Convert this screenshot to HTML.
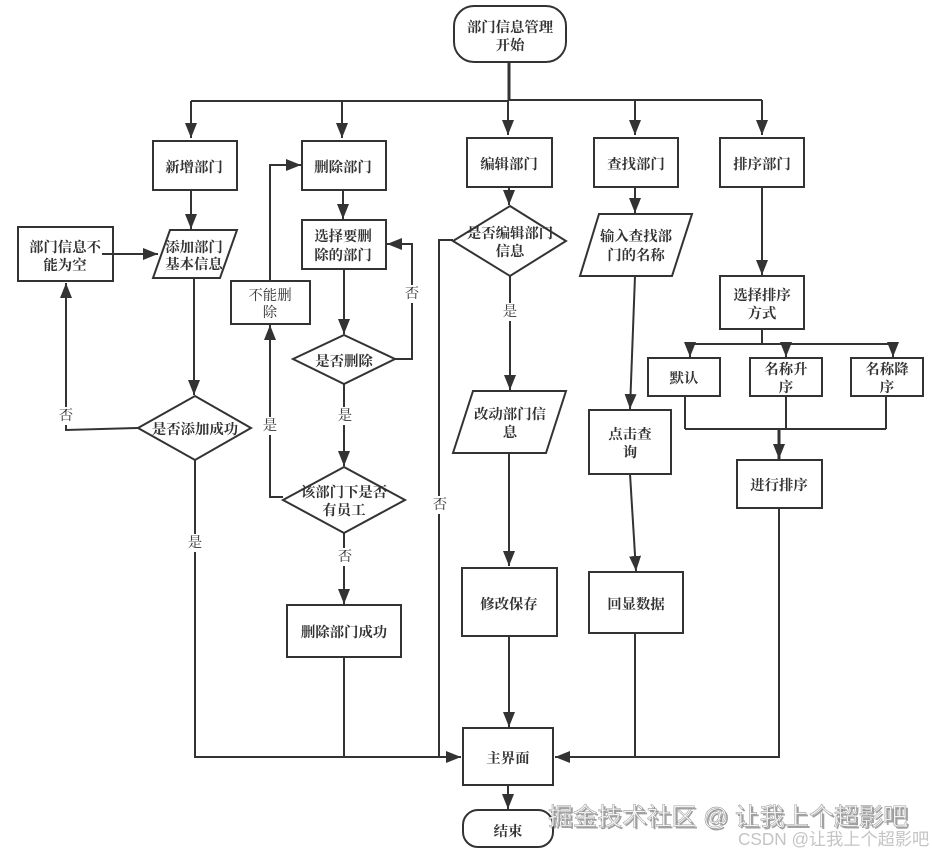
<!DOCTYPE html>
<html><head><meta charset="utf-8">
<style>
html,body{margin:0;padding:0;background:#fff;width:932px;height:854px;overflow:hidden}
svg{display:block}
.s{fill:#fff;stroke:#333;stroke-width:2}
.l{fill:none;stroke:#333;stroke-width:2}
.t{font-family:"Liberation Serif","Noto Serif CJK SC",serif;font-size:14.4px;font-weight:700;fill:#333;text-anchor:middle;dominant-baseline:central}
.e{font-family:"Liberation Serif","Noto Serif CJK SC",serif;font-size:14.4px;fill:#333;text-anchor:middle;dominant-baseline:central}
.w{font-family:"Liberation Sans","Noto Sans CJK SC",sans-serif}
</style></head><body>
<svg width="932" height="854" viewBox="0 0 932 854" xmlns="http://www.w3.org/2000/svg">
<defs>
<marker id="a" viewBox="0 0 15 12" refX="15" refY="6" markerWidth="15" markerHeight="12" markerUnits="userSpaceOnUse" orient="auto"><path d="M0 0L15 6L0 12Z" fill="#333"/></marker>
</defs>
<g class="l">
<path d="M509 62V100" stroke-width="3"/>
<path d="M191 101H509M509 100H762"/>
<path d="M191 101V138" marker-end="url(#a)"/>
<path d="M342 101V138" marker-end="url(#a)"/>
<path d="M508 100V135" marker-end="url(#a)"/>
<path d="M635 100V135" marker-end="url(#a)"/>
<path d="M762 100V135" marker-end="url(#a)"/>
<path d="M191 190V229" marker-end="url(#a)"/>
<path d="M194 278V395" marker-end="url(#a)"/>
<path d="M102 254H158" marker-end="url(#a)"/>
<path d="M138 428L66 430V283" marker-end="url(#a)"/>
<path d="M195 460V757H461" marker-end="url(#a)"/>
<path d="M270 281V165H301" marker-end="url(#a)"/>
<path d="M343 190V219" marker-end="url(#a)"/>
<path d="M344 269V334" marker-end="url(#a)"/>
<path d="M395 359H412V244H387" marker-end="url(#a)"/>
<path d="M344 384V466" marker-end="url(#a)"/>
<path d="M283 497H270V325" marker-end="url(#a)"/>
<path d="M344 533V604" marker-end="url(#a)"/>
<path d="M344 657V757"/>
<path d="M453 240H439V757"/>
<path d="M509 187V205" marker-end="url(#a)"/>
<path d="M510 276V390" marker-end="url(#a)"/>
<path d="M509 453V566" marker-end="url(#a)"/>
<path d="M509 636V727" marker-end="url(#a)"/>
<path d="M508 785V809" marker-end="url(#a)"/>
<path d="M635 187V213" marker-end="url(#a)"/>
<path d="M635 276L630 409" marker-end="url(#a)"/>
<path d="M630 474L636 571" marker-end="url(#a)"/>
<path d="M635 633V757"/>
<path d="M762 187V275" marker-end="url(#a)"/>
<path d="M762 329V344"/>
<path d="M690 344H893"/>
<path d="M690 344V357" marker-end="url(#a)"/>
<path d="M786 344V357" marker-end="url(#a)"/>
<path d="M893 344V357" marker-end="url(#a)"/>
<path d="M685 396V429M786 396V429M886 396V429M685 429H886"/>
<path d="M779 429V459" stroke-width="3" marker-end="url(#a)"/>
<path d="M779 508V757H555" marker-end="url(#a)"/>
</g>
<rect class="s" x="454" y="6" width="112" height="56" rx="20"/>
<rect class="s" x="153" y="141" width="84" height="49"/>
<rect class="s" x="302" y="141" width="84" height="49"/>
<rect class="s" x="467" y="138" width="85" height="49"/>
<rect class="s" x="594" y="138" width="84" height="49"/>
<rect class="s" x="720" y="138" width="84" height="49"/>
<rect class="s" x="18" y="227" width="95" height="54" style="fill:none"/>
<polygon class="s" points="170,230 237,230 220,278 153,278"/>
<rect class="s" x="302" y="220" width="84" height="49"/>
<rect class="s" x="231" y="281" width="79" height="43"/>
<polygon class="s" points="344,335 395,359 344,384 293,359"/>
<polygon class="s" points="195,396 251,428 195,460 138,428"/>
<polygon class="s" points="344,467 405,500 344,533 283,500"/>
<rect class="s" x="287" y="605" width="114" height="52"/>
<polygon class="s" points="510,206 566,241 510,276 453,241"/>
<polygon class="s" points="473,391 566,391 546,453 453,453"/>
<rect class="s" x="462" y="568" width="95" height="68"/>
<rect class="s" x="463" y="728" width="90" height="57"/>
<rect class="s" x="463" y="810" width="90" height="37" rx="15"/>
<polygon class="s" points="599,214 692,214 672,276 580,276"/>
<rect class="s" x="589" y="410" width="82" height="64"/>
<rect class="s" x="589" y="572" width="94" height="61"/>
<rect class="s" x="720" y="276" width="84" height="53"/>
<rect class="s" x="648" y="358" width="72" height="38"/>
<rect class="s" x="750" y="358" width="72" height="38"/>
<rect class="s" x="851" y="358" width="72" height="38"/>
<rect class="s" x="737" y="460" width="85" height="48"/>
<text class="t" x="510" y="28">部门信息管理</text><text class="t" x="510" y="46">开始</text>
<text class="t" x="194" y="168">新增部门</text>
<text class="t" x="343" y="168">删除部门</text>
<text class="t" x="509" y="165">编辑部门</text>
<text class="t" x="636" y="165">查找部门</text>
<text class="t" x="762" y="165">排序部门</text>
<text class="t" x="65" y="248">部门信息不</text><text class="t" x="65" y="266">能为空</text>
<text class="t" x="194" y="248">添加部门</text><text class="t" x="194" y="265">基本信息</text>
<text class="t" x="343" y="237">选择要删</text><text class="t" x="343" y="256">除的部门</text>
<text class="e" x="270" y="296">不能删</text><text class="e" x="270" y="313">除</text>
<text class="t" x="344" y="362">是否删除</text>
<text class="t" x="195" y="430">是否添加成功</text>
<text class="t" x="344" y="493">该部门下是否</text><text class="t" x="344" y="511">有员工</text>
<text class="t" x="344" y="633">删除部门成功</text>
<text class="t" x="510" y="234">是否编辑部门</text><text class="t" x="510" y="252">信息</text>
<text class="t" x="510" y="415">改动部门信</text><text class="t" x="510" y="433">息</text>
<text class="t" x="509" y="605">修改保存</text>
<text class="t" x="508" y="759">主界面</text>
<text class="t" x="508" y="832">结束</text>
<text class="t" x="636" y="237">输入查找部</text><text class="t" x="636" y="256">门的名称</text>
<text class="t" x="630" y="435">点击查</text><text class="t" x="630" y="453">询</text>
<text class="t" x="636" y="605">回显数据</text>
<text class="t" x="762" y="296">选择排序</text><text class="t" x="762" y="314">方式</text>
<text class="t" x="684" y="379">默认</text>
<text class="t" x="786" y="370">名称升</text><text class="t" x="786" y="388">序</text>
<text class="t" x="887" y="370">名称降</text><text class="t" x="887" y="388">序</text>
<text class="t" x="779" y="486">进行排序</text>
<g>
<rect x="57" y="407" width="18" height="18" fill="#fff"/><text class="e" x="66" y="416">否</text>
<rect x="186" y="534" width="18" height="18" fill="#fff"/><text class="e" x="195" y="543">是</text>
<rect x="403" y="285" width="18" height="18" fill="#fff"/><text class="e" x="412" y="294">否</text>
<rect x="336" y="407" width="18" height="18" fill="#fff"/><text class="e" x="345" y="416">是</text>
<rect x="261" y="417" width="18" height="18" fill="#fff"/><text class="e" x="270" y="426">是</text>
<rect x="336" y="548" width="18" height="18" fill="#fff"/><text class="e" x="345" y="557">否</text>
<rect x="431" y="496" width="18" height="18" fill="#fff"/><text class="e" x="440" y="505">否</text>
<rect x="501" y="303" width="18" height="18" fill="#fff"/><text class="e" x="510" y="312">是</text>
</g>
<text class="w" x="549" y="826" font-size="24.7" fill="#555" opacity=".55" transform="translate(1 1)">掘金技术社区 @ 让我上个超影吧</text>
<text class="w" x="548" y="825" font-size="24.7" fill="#f2f2f2" stroke="#888" stroke-width=".4">掘金技术社区 @ 让我上个超影吧</text>
<text class="w" x="738" y="845" font-size="17.2" fill="#c4c4c4">CSDN @让我上个超影吧</text>
</svg>
</body></html>
